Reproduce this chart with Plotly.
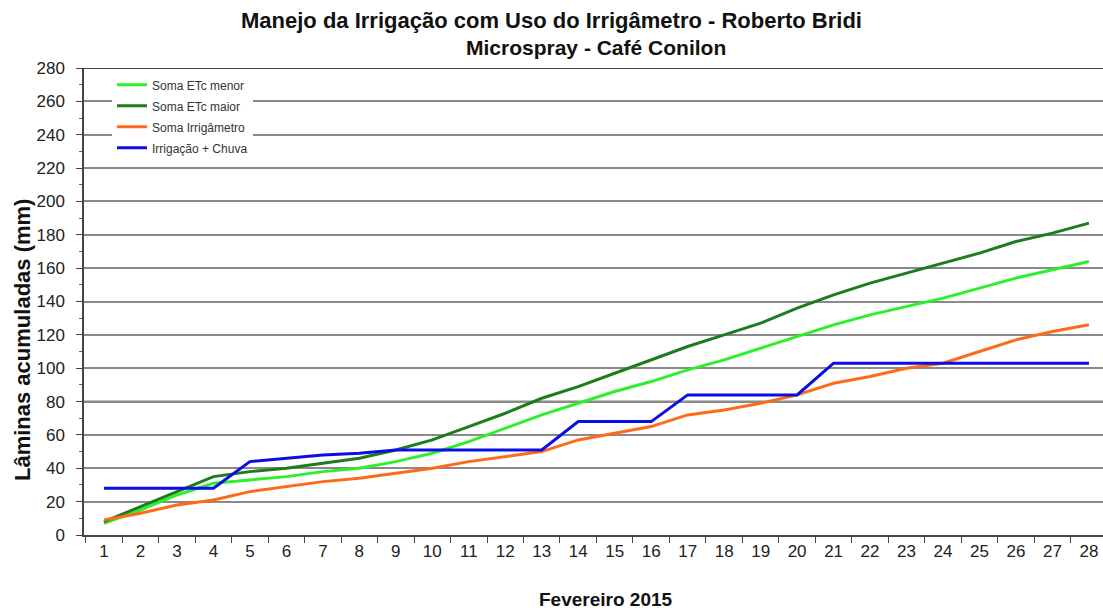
import plotly.graph_objects as go

# Daily accumulated depths (mm), February 2015
days = list(range(1, 29))
etc_menor = [7, 15, 24, 31, 33, 35, 38, 40, 44, 49, 56, 64, 72, 79, 86, 92, 99, 105,
             112, 119, 126, 132, 137, 142, 148, 154, 159, 164]
etc_maior = [8, 17, 26, 35, 38, 40, 43, 46, 51, 57, 65, 73, 82, 89, 97, 105, 113, 120,
             127, 136, 144, 151, 157, 163, 169, 176, 181, 187]
irrigametro = [9, 13, 18, 21, 26, 29, 32, 34, 37, 40, 44, 47, 50, 57, 61, 65, 72, 75,
               79, 84, 91, 95, 100, 103, 110, 117, 122, 126]
irrig_chuva = [28, 28, 28, 28, 44, 46, 48, 49, 51, 51, 51, 51, 51, 68, 68, 68, 84, 84,
               84, 84, 103, 103, 103, 103, 103, 103, 103, 103]

series_names = ["Soma ETc menor", "Soma ETc maior", "Soma Irrigâmetro", "Irrigação + Chuva"]
series_values = [etc_menor, etc_maior, irrigametro, irrig_chuva]
series_colors = ["#2cf02c", "#1b7d1b", "#ff6a1a", "#0c0ce6"]

y_ticks = list(range(0, 281, 20))
x_ticks = days

FONT = "Liberation Sans, Arial, Helvetica, sans-serif"

fig = go.Figure()
for i, (name, vals, col) in enumerate(zip(series_names, series_values, series_colors)):
    fig.add_trace(go.Scatter(
        x=days, y=vals, name=name, mode="lines",
        line=dict(color=col, width=3),
        legendgroup=f"g{i}",
    ))

fig.update_layout(
    width=1103, height=612,
    margin=dict(l=84, r=0, t=68, b=77),
    paper_bgcolor="white", plot_bgcolor="white",
    font=dict(family=FONT, color="#222"),
    showlegend=True,
    legend=dict(
        x=(112 - 84) / 1019, y=0.995, xanchor="left", yanchor="top",
        bgcolor="white", borderwidth=0,
        font=dict(size=12, color="#333"),
        tracegroupgap=2,
    ),
    xaxis=dict(
        range=[0.452, 28.385],
        tickmode="array", tickvals=x_ticks, ticktext=[str(d) for d in x_ticks],
        ticks="", showgrid=False, zeroline=False,
        showline=True, linecolor="#444", linewidth=1.5,
        tickfont=dict(size=17, color="#222"),
        minor=dict(tick0=0.5, dtick=1, ticks="outside", ticklen=6,
                   tickcolor="#444", tickwidth=1, showgrid=False),
    ),
    yaxis=dict(
        range=[0, 280],
        tickmode="array", tickvals=y_ticks,
        ticks="outside", ticklen=6, tickcolor="#444",
        showgrid=True, gridcolor="#8a8a8a", gridwidth=1.5,
        zeroline=False,
        showline=True, linecolor="#444", linewidth=1.5,
        tickfont=dict(size=17, color="#222"),
        ticklabelstandoff=8,
        minor=dict(dtick=10, ticks="outside", ticklen=3, tickcolor="#666", showgrid=False),
    ),
)

# Emphasised reference lines at 80 mm and at the top of the scale
for yv, col in [(80, "#111"), (280, "#444")]:
    fig.add_shape(type="line", xref="paper", yref="y", x0=0, x1=1, y0=yv, y1=yv,
                  line=dict(color=col, width=1.8), layer="below")

# Titles
fig.add_annotation(text="<b>Manejo da Irrigação com Uso do Irrigâmetro - Roberto Bridi</b>",
                   xref="paper", yref="paper", x=(551 - 84) / 1019, y=1 + (68 - 20) / 467,
                   showarrow=False, font=dict(size=22, color="#111", family=FONT),
                   xanchor="center", yanchor="middle")
fig.add_annotation(text="<b>Microspray - Café Conilon</b>",
                   xref="paper", yref="paper", x=(596 - 84) / 1019, y=1 + (68 - 47) / 467,
                   showarrow=False, font=dict(size=21, color="#111", family=FONT),
                   xanchor="center", yanchor="middle")
fig.add_annotation(text="<b>Fevereiro 2015</b>",
                   xref="paper", yref="paper", x=(606 - 84) / 1019, y=-(599 - 535) / 467,
                   showarrow=False, font=dict(size=19, color="#111", family=FONT),
                   xanchor="center", yanchor="middle")
fig.add_annotation(text="<b>Lâminas acumuladas (mm)</b>",
                   xref="paper", yref="paper", x=-(84 - 22) / 1019, y=(535 - 340) / 467,
                   showarrow=False, textangle=-90, font=dict(size=22, color="#111", family=FONT),
                   xanchor="center", yanchor="middle")

fig.write_html("out.html")
